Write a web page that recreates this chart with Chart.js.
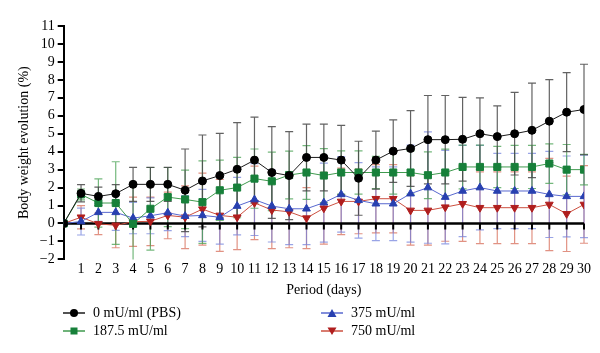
<!DOCTYPE html>
<html>
<head>
<meta charset="utf-8">
<script src="https://cdn.jsdelivr.net/npm/chart.js@4.4.1/dist/chart.umd.min.js"></script>
<style>
  html, body { margin: 0; padding: 0; background: #fff; }
  #wrap { position: relative; width: 600px; height: 353px; }
  #legend { position: absolute; left: 0; top: 0; width: 600px; height: 353px; pointer-events: none;
    font-family: 'Liberation Serif', 'DejaVu Serif', serif; font-size: 14px; color: #000; }
  .item { position: absolute; display: flex; align-items: center; height: 18px; }
  .item svg { margin-right: 8px; }
</style>
</head>
<body>
<div id="wrap">
  <canvas id="chart" width="600" height="353"></canvas>
  <div id="legend"></div>
</div>
<script>
const days = [0, 1, 2, 3, 4, 5, 6, 7, 8, 9, 10, 11, 12, 13, 14, 15, 16, 17, 18, 19, 20, 21, 22, 23, 24, 25, 26, 27, 28, 29, 30];

const pbsMean = [0, 1.68, 1.51, 1.66, 2.18, 2.18, 2.18, 1.85, 2.37, 2.67, 3.02, 3.53, 2.84, 2.67, 3.68, 3.68, 3.53, 2.52, 3.53, 4.03, 4.18, 4.67, 4.67, 4.69, 5.0, 4.84, 5.0, 5.19, 5.7, 6.2, 6.35];
const pbsErr = [0, 0.48, 0.52, 0.5, 0.95, 0.95, 0.95, 2.3, 2.56, 2.35, 2.6, 2.4, 2.56, 2.45, 1.86, 1.86, 1.94, 2.06, 1.62, 1.74, 2.11, 2.46, 2.46, 2.33, 2.0, 1.71, 2.3, 2.63, 2.31, 2.2, 2.52];

const lowMean = [0, 1.62, 1.14, 1.14, -0.02, 0.82, 1.47, 1.34, 1.19, 1.85, 2.0, 2.5, 2.35, 2.7, 2.84, 2.67, 2.84, 2.84, 2.84, 2.84, 2.84, 2.69, 2.84, 3.15, 3.15, 3.15, 3.15, 3.15, 3.34, 3.0, 3.0];
const lowErr = [0, 0.3, 1.34, 2.3, 2.2, 2.3, 1.65, 1.63, 2.3, 1.68, 1.68, 1.65, 1.63, 1.33, 1.5, 1.5, 1.2, 1.2, 0.9, 1.2, 1.2, 1.3, 1.3, 1.22, 1.22, 1.15, 1.2, 1.2, 1.1, 1.4, 0.85];

const midMean = [0, 0.11, 0.62, 0.62, 0.3, 0.43, 0.6, 0.41, 0.45, 0.35, 0.97, 1.33, 0.97, 0.82, 0.82, 1.16, 1.62, 1.29, 1.1, 1.1, 1.66, 2.0, 1.47, 1.81, 2.0, 1.81, 1.81, 1.81, 1.62, 1.51, 1.51];
const midErr = [0, 0.75, 0.5, 1.0, 0.87, 1.0, 1.0, 1.14, 1.45, 1.5, 1.6, 2.0, 2.0, 2.0, 2.0, 2.2, 2.1, 2.1, 2.05, 2.05, 2.7, 3.1, 2.6, 2.54, 2.35, 2.1, 2.1, 2.1, 2.4, 2.25, 2.3];

const highMean = [0, 0.35, -0.02, -0.1, 0.1, 0.12, 0.45, 0.35, 0.8, 0.45, 0.35, 1.15, 0.75, 0.65, 0.3, 0.85, 1.23, 1.23, 1.38, 1.38, 0.73, 0.73, 0.91, 1.1, 0.88, 0.88, 0.88, 0.88, 1.06, 0.54, 1.06];
const highErr = [0, 0.65, 0.6, 1.25, 1.37, 1.35, 1.3, 1.75, 2.0, 2.0, 1.8, 2.05, 2.15, 2.0, 1.7, 2.0, 1.85, 1.8, 1.9, 1.9, 1.93, 1.93, 1.9, 2.1, 2.0, 2.0, 2.0, 2.0, 2.57, 2.1, 2.16];

const seriesNames = ['0 mU/ml (PBS)', '187.5 mU/ml', '375 mU/ml', '750 mU/ml'];
const yTicks = [-2, -1, 0, 1, 2, 3, 4, 5, 6, 7, 8, 9, 10, 11];

const serif = "'Liberation Serif', 'DejaVu Serif', serif";

const toPoints = (values) => days.map((d, i) => ({ x: d, y: values[i] }));

const styles = [
  { line: '#1a1a1a', mark: '#000000', bar: 'rgba(70, 70, 70, 0.85)', point: 'circle', radius: 4, rotation: 0 },
  { line: '#3f9a4e', mark: '#17803a', bar: 'rgba(70, 160, 80, 0.75)', point: 'rect', radius: 5, rotation: 0 },
  { line: '#5868cf', mark: '#2840b0', bar: 'rgba(110, 125, 220, 0.7)', point: 'triangle', radius: 4.5, rotation: 0 },
  { line: '#cc5040', mark: '#b01e1e', bar: 'rgba(215, 110, 90, 0.75)', point: 'triangle', radius: 4.5, rotation: 180 },
];

const means = [pbsMean, lowMean, midMean, highMean];
const errors = [pbsErr, lowErr, midErr, highErr];

const datasets = means.map((m, i) => ({
  label: seriesNames[i],
  data: toPoints(m),
  errors: errors[i],
  borderColor: styles[i].line,
  backgroundColor: styles[i].mark,
  pointBackgroundColor: styles[i].mark,
  pointBorderColor: styles[i].mark,
  pointStyle: styles[i].point,
  pointRadius: styles[i].radius,
  pointRotation: styles[i].rotation,
  borderWidth: 1,
  pointBorderWidth: 1,
  tension: 0,
  barColor: styles[i].bar,
}));

// error bars and the zero line with its day ticks, drawn under the series
const underlayPlugin = {
  id: 'underlay',
  beforeDatasetsDraw(chart) {
    const { ctx, chartArea, scales } = chart;
    const xs = scales.x;
    const ys = scales.y;
    ctx.save();
    ctx.beginPath();
    ctx.rect(chartArea.left, chartArea.top - 2, chartArea.right - chartArea.left + 10, chartArea.bottom - chartArea.top + 2);
    ctx.clip();
    for (let s = chart.data.datasets.length - 1; s >= 0; s -= 1) {
      const ds = chart.data.datasets[s];
      ctx.strokeStyle = ds.barColor;
      ctx.lineWidth = 1.2;
      ds.data.forEach((p, i) => {
        const e = ds.errors[i];
        if (!e) return;
        const px = xs.getPixelForValue(p.x);
        const top = ys.getPixelForValue(p.y + e);
        const bot = ys.getPixelForValue(p.y - e);
        ctx.beginPath();
        ctx.moveTo(px, top);
        ctx.lineTo(px, bot);
        ctx.moveTo(px - 4, top);
        ctx.lineTo(px + 4, top);
        ctx.moveTo(px - 4, bot);
        ctx.lineTo(px + 4, bot);
        ctx.stroke();
      });
    }
    ctx.restore();

    const y0 = ys.getPixelForValue(0);
    ctx.save();
    ctx.strokeStyle = '#000';
    ctx.lineWidth = 2.5;
    ctx.beginPath();
    ctx.moveTo(xs.getPixelForValue(0), y0);
    ctx.lineTo(xs.getPixelForValue(30), y0);
    ctx.stroke();
    ctx.lineWidth = 2;
    days.forEach((d) => {
      if (d === 0) return;
      const px = xs.getPixelForValue(d);
      ctx.beginPath();
      ctx.moveTo(px, y0);
      ctx.lineTo(px, y0 + 6);
      ctx.stroke();
    });
    ctx.restore();
  },
};

new Chart(document.querySelector('#chart'), {
  type: 'line',
  data: { datasets },
  options: {
    responsive: false,
    animation: false,
    layout: { padding: { top: 26, right: 16, bottom: 54, left: 16 } },
    plugins: {
      legend: { display: false },
      tooltip: { enabled: false },
    },
    scales: {
      x: {
        type: 'linear',
        min: 0,
        max: 30,
        grid: { display: false, drawTicks: false },
        border: { display: false },
        ticks: {
          stepSize: 1,
          autoSkip: false,
          maxRotation: 0,
          padding: 2,
          color: '#000',
          font: { family: serif, size: 14 },
          callback: (v) => (v === 0 ? '' : String(v)),
        },
        title: {
          display: true,
          text: 'Period (days)',
          color: '#000',
          font: { family: serif, size: 14 },
          padding: { top: 2, bottom: 0 },
        },
      },
      y: {
        min: -2,
        max: 11,
        afterBuildTicks: (axis) => {
          axis.ticks = yTicks.map((v) => ({ value: v }));
        },
        grid: { drawOnChartArea: false, drawTicks: true, tickLength: 6, color: '#000', lineWidth: 2 },
        border: { display: true, color: '#000', width: 2 },
        ticks: {
          autoSkip: false,
          color: '#000',
          padding: 3,
          font: { family: serif, size: 14 },
          callback: (v) => (v < 0 ? '\u2212' + Math.abs(v) : String(v)),
        },
        title: {
          display: true,
          text: 'Body weight evolution (%)',
          color: '#000',
          font: { family: serif, size: 14 },
          padding: { top: 0, bottom: 4 },
        },
      },
    },
  },
  plugins: [underlayPlugin],
});

// legend laid out as two columns, like the original figure
const legendNode = document.querySelector('#legend');
const legendSpots = [
  { left: 63, top: 304 },
  { left: 63, top: 322 },
  { left: 321, top: 304 },
  { left: 321, top: 322 },
];

const markerSvg = (st) => {
  let shape = '';
  if (st.point === 'circle') shape = `<circle cx="11" cy="6" r="4" fill="${st.mark}"/>`;
  else if (st.point === 'rect') shape = `<rect x="7.5" y="2.5" width="7" height="7" fill="${st.mark}"/>`;
  else if (st.rotation === 180) shape = `<polygon points="6.5,2.5 15.5,2.5 11,10" fill="${st.mark}"/>`;
  else shape = `<polygon points="6.5,10 15.5,10 11,2" fill="${st.mark}"/>`;
  return `<svg width="22" height="12" viewBox="0 0 22 12"><line x1="0" y1="6" x2="22" y2="6" stroke="${st.line}" stroke-width="1.5"/>${shape}</svg>`;
};

seriesNames.forEach((name, i) => {
  const el = document.createElement('div');
  el.className = 'item';
  el.style.left = legendSpots[i].left + 'px';
  el.style.top = legendSpots[i].top + 'px';
  el.innerHTML = markerSvg(styles[i]) + '<span>' + name + '</span>';
  legendNode.appendChild(el);
});
</script>
</body>
</html>
